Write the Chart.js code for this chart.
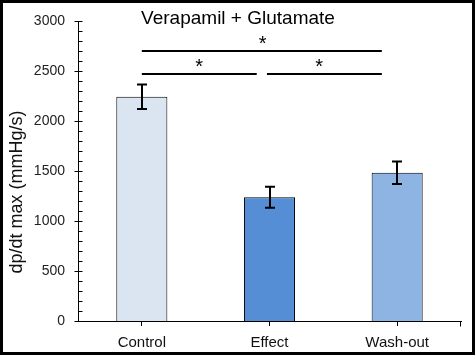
<!DOCTYPE html>
<html>
<head>
<meta charset="utf-8">
<script src="https://cdn.jsdelivr.net/npm/chart.js@4"></script>
<style>
html,body{margin:0;padding:0;background:#fff;}
#wrap{width:475px;height:355px;position:relative;}
</style>
</head>
<body>
<div id="wrap"><canvas id="c" width="475" height="355"></canvas></div>
<script>
const categories = ['Control', 'Effect', 'Wash-out'];
const means = [2245, 1240, 1485];
const errors = [122, 105, 112];
const barColors = ['#dbe5f1', '#558ed5', '#8eb4e3'];
const yTicks = [0, 500, 1000, 1500, 2000, 2500, 3000];
const chartTitle = 'Verapamil + Glutamate';
const yTitle = 'dp/dt max (mmHg/s)';
// significance brackets: from/to category index (fractional), y value, star position
const sigFrom = [0, 0, 0.98];
const sigTo = [1.88, 0.9, 1.88];
const sigY = [2700, 2475, 2475];
const sigStarX = [0.947, 0.448, 1.388];
const sigLabel = ['*', '*', '*'];

const FONT = 'Arial, "Liberation Sans", sans-serif';

const overlay = {
  id: 'overlay',
  afterDatasetsDraw(chart) {
    const ctx = chart.ctx;
    const x = chart.scales.x, y = chart.scales.y;
    ctx.save();
    // error bars
    ctx.strokeStyle = '#000';
    ctx.lineWidth = 2;
    const meta = chart.getDatasetMeta(0);
    meta.data.forEach((bar, i) => {
      const cx = Math.round(bar.x);
      const top = y.getPixelForValue(means[i] + errors[i]);
      const bot = y.getPixelForValue(means[i] - errors[i]);
      ctx.beginPath();
      ctx.moveTo(cx, top); ctx.lineTo(cx, bot);
      ctx.moveTo(cx - 5, top); ctx.lineTo(cx + 5, top);
      ctx.moveTo(cx - 5, bot); ctx.lineTo(cx + 5, bot);
      ctx.stroke();
    });
    // y axis ticks
    ctx.lineWidth = 1;
    const ax = Math.round(chart.chartArea.left) + 0.5;
    for (let v = 0; v <= 3000; v += 100) {
      const py = Math.round(y.getPixelForValue(v)) + 0.5;
      ctx.beginPath();
      if (v % 500 === 0) { ctx.moveTo(ax - 4, py); ctx.lineTo(ax + 4, py); }
      else { ctx.moveTo(ax, py); ctx.lineTo(ax + 4, py); }
      ctx.stroke();
    }
    // x axis end tick
    const ay = Math.round(chart.chartArea.bottom) + 0.5;
    const rx = Math.round(chart.chartArea.right) - 0.5;
    ctx.beginPath(); ctx.moveTo(rx, ay); ctx.lineTo(rx, ay + 5); ctx.stroke();
    // significance lines
    ctx.lineWidth = 2;
    ctx.fillStyle = '#000';
    ctx.font = '20px ' + FONT;
    ctx.textAlign = 'center';
    ctx.textBaseline = 'alphabetic';
    for (let i = 0; i < sigY.length; i++) {
      const x1 = x.getPixelForValue(sigFrom[i]);
      const x2 = x.getPixelForValue(sigTo[i]);
      const py = Math.round(y.getPixelForValue(sigY[i]));
      ctx.beginPath(); ctx.moveTo(x1, py); ctx.lineTo(x2, py); ctx.stroke();
      ctx.fillText(sigLabel[i], x.getPixelForValue(sigStarX[i]), py - 1);
    }
    // title
    ctx.font = '19px ' + FONT;
    ctx.fillText(chartTitle, 238, 24);
    // y axis title
    ctx.save();
    ctx.translate(17.5, 192);
    ctx.rotate(-Math.PI / 2);
    ctx.font = '18px ' + FONT;
    ctx.fillStyle = '#111';
    ctx.textBaseline = 'middle';
    ctx.fillText(yTitle, 0, 0);
    ctx.restore();
    // frame
    ctx.lineWidth = 3;
    ctx.strokeRect(1.5, 1.5, chart.width - 3, chart.height - 3);
    ctx.restore();
  }
};

new Chart(document.getElementById('c'), {
  type: 'bar',
  data: {
    labels: categories,
    datasets: [{
      data: means,
      backgroundColor: barColors,
      borderColor: '#000',
      borderWidth: 1,
      barPercentage: 0.4,
      categoryPercentage: 1.0
    }]
  },
  options: {
    responsive: false,
    animation: false,
    devicePixelRatio: 1,
    layout: { padding: { left: 3, right: 14, top: 19, bottom: 4 } },
    plugins: { legend: { display: false }, tooltip: { enabled: false }, title: { display: false } },
    scales: {
      x: {
        offset: true,
        grid: { display: true, drawOnChartArea: false, offset: false, tickLength: 5, color: '#000' },
        border: { display: true, color: '#000', width: 1 },
        ticks: { color: '#111', padding: 8, font: { family: FONT, size: 15 } },
        afterFit(s) { s.height = 30; }
      },
      y: {
        min: 0, max: 3000,
        afterBuildTicks(s) { s.ticks = yTicks.map(v => ({ value: v })); },
        grid: { display: false, drawTicks: false },
        border: { display: true, color: '#000', width: 1 },
        ticks: { color: '#222', padding: 13, font: { family: FONT, size: 14 }, callback: v => String(v) },
        title: { display: false },
        afterFit(s) { s.width = 75; }
      }
    }
  },
  plugins: [overlay]
});
</script>
</body>
</html>
